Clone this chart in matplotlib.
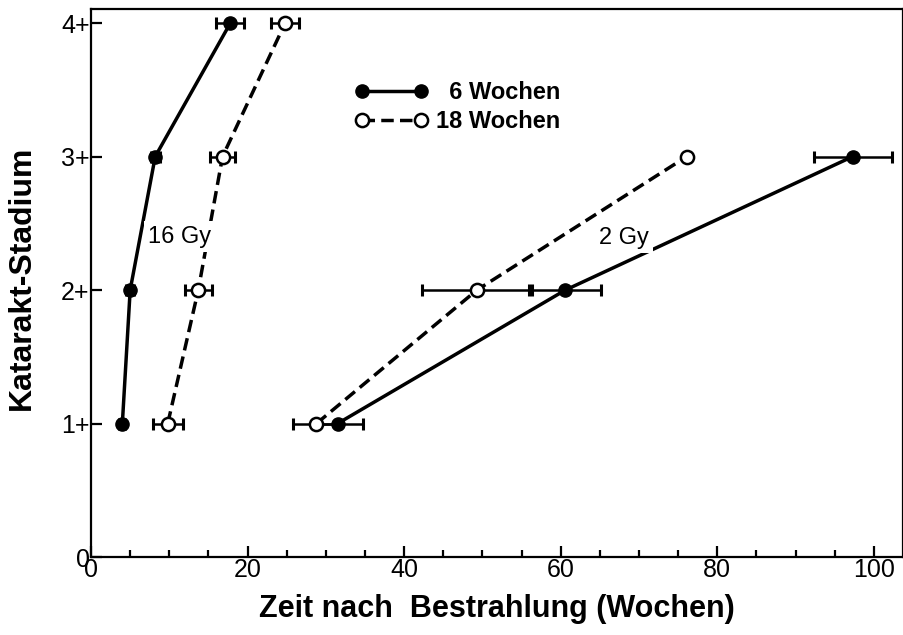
import matplotlib
matplotlib.use("Agg")
import matplotlib.pyplot as plt
from matplotlib.ticker import MultipleLocator

plt.rcParams['font.family'] = ['Liberation Sans', 'DejaVu Sans']

stages = [1, 2, 3, 4]
stage_labels = ["0", "1+", "2+", "3+", "4+"]

# 16 Gy
t16_6w = [4.0, 5.0, 8.2, 17.8]
e16_6w = [0.4, 0.5, 0.6, 1.8]
t16_18w = [9.8, 13.7, 16.8, 24.8]
e16_18w = [1.9, 1.7, 1.6, 1.8]

# 2 Gy
stages_2 = [1, 2, 3]
t2_6w = [31.5, 60.6, 97.3]
e2_6w = [3.2, 4.6, 5.0]
t2_18w = [28.8, 49.3, 76.1]
e2_18w = [3.0, 7.0, 0.0]

fig = plt.figure(figsize=(9.04, 6.35), dpi=100)
ax = fig.add_axes([0.1007, 0.1228, 0.898, 0.863])

lw = 2.5
dash = (0, (3.6, 1.8))
filled = dict(marker='o', ms=9.5, mfc='black', mec='black', color='black', lw=lw)
hollow = dict(marker='o', ms=9.5, mfc='white', mec='black', mew=1.8, color='black', lw=lw, ls=dash)
ebkw = dict(fmt='none', ecolor='black', elinewidth=1.8, capsize=4.5, capthick=2.2)

ax.errorbar(t16_6w, stages, xerr=e16_6w, zorder=2, **ebkw)
ax.errorbar(t16_18w, stages, xerr=e16_18w, zorder=2, **ebkw)
ax.errorbar(t2_6w, stages_2, xerr=e2_6w, zorder=2, **ebkw)
ax.errorbar(t2_18w[:2], stages_2[:2], xerr=e2_18w[:2], zorder=2, **ebkw)

ax.plot(t16_6w, stages, zorder=3, label="  6 Wochen", **filled)
ax.plot(t16_18w, stages, zorder=3, label="18 Wochen", **hollow)
ax.plot(t2_6w, stages_2, zorder=3, **filled)
ax.plot(t2_18w, stages_2, zorder=3, **hollow)

ax.text(11.3, 2.4, "16 Gy", fontsize=17, ha='center', va='center', zorder=4,
        bbox=dict(facecolor='white', edgecolor='none', pad=3))
ax.text(68.1, 2.39, "2 Gy", fontsize=17, ha='center', va='center', zorder=4,
        bbox=dict(facecolor='white', edgecolor='none', pad=3))

ax.legend(loc='upper left', bbox_to_anchor=(0.325, 0.868), frameon=False,
          numpoints=2, handlelength=3.1, handletextpad=0.35, labelspacing=0.25,
          borderaxespad=0, borderpad=0,
          prop=dict(weight='bold', size=17))

ax.set_xlim(0, 103.7)
ax.set_ylim(0, 4.105)
ax.xaxis.set_major_locator(MultipleLocator(20))
ax.xaxis.set_minor_locator(MultipleLocator(5))
ax.set_yticks(range(5))
ax.set_yticklabels(stage_labels)
ax.tick_params(which='both', direction='in', width=1.6, labelsize=18)
ax.tick_params(which='major', length=8)
ax.tick_params(which='minor', length=5)
ax.tick_params(axis='x', pad=1)
ax.tick_params(axis='y', pad=1)
for sp in ax.spines.values():
    sp.set_linewidth(1.6)

ax.set_xlabel("Zeit nach  Bestrahlung (Wochen)", fontsize=22, fontweight='bold', labelpad=8)
ax.set_ylabel("Katarakt-Stadium", fontsize=23, fontweight='bold')
ax.yaxis.set_label_coords(-0.067, 0.51)

fig.savefig("out.png", dpi=100, facecolor='white')
